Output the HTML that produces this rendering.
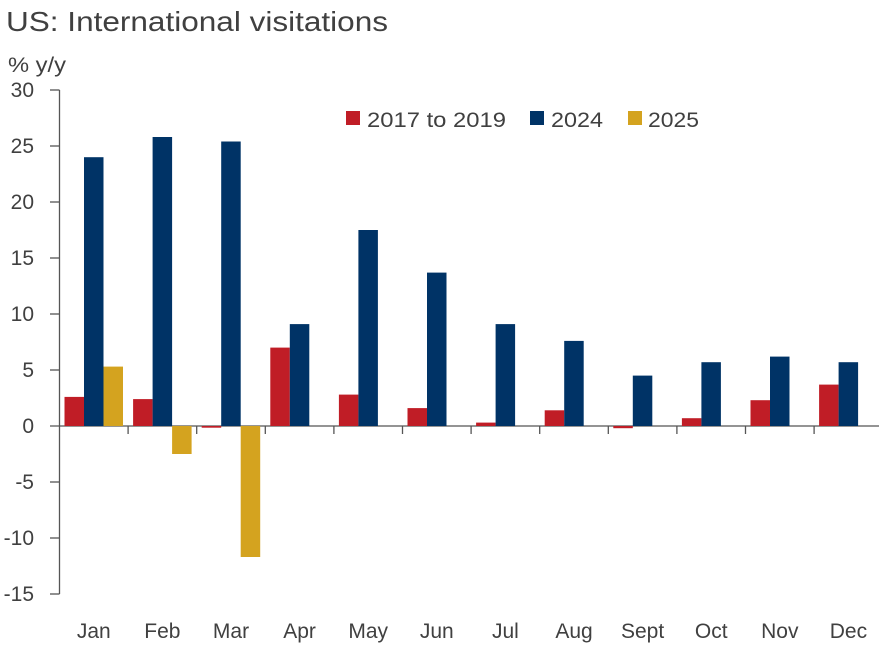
<!DOCTYPE html><html><head><style>body{margin:0;background:#fff}svg text{font-family:"Liberation Sans",sans-serif;fill:#404040}</style></head><body>
<svg width="879" height="654" xmlns="http://www.w3.org/2000/svg">
<text x="6" y="31" font-size="28" textLength="382" lengthAdjust="spacingAndGlyphs">US: International visitations</text>
<text x="8" y="72" font-size="21" textLength="58" lengthAdjust="spacingAndGlyphs">% y/y</text>
<g font-size="21" text-anchor="end">
<text x="34" y="97">30</text><text x="34" y="153">25</text><text x="34" y="209">20</text><text x="34" y="265">15</text><text x="34" y="321">10</text><text x="34" y="377">5</text><text x="34" y="433">0</text><text x="34" y="489">-5</text><text x="34" y="545">-10</text><text x="34" y="601">-15</text>
</g>
<g stroke="#555" stroke-width="1.3">
<line x1="59.5" y1="90" x2="59.5" y2="594"/>
<line x1="50" y1="90" x2="59.5" y2="90"/><line x1="50" y1="146" x2="59.5" y2="146"/><line x1="50" y1="202" x2="59.5" y2="202"/><line x1="50" y1="258" x2="59.5" y2="258"/><line x1="50" y1="314" x2="59.5" y2="314"/><line x1="50" y1="370" x2="59.5" y2="370"/><line x1="50" y1="426" x2="879" y2="426"/><line x1="50" y1="482" x2="59.5" y2="482"/><line x1="50" y1="538" x2="59.5" y2="538"/><line x1="50" y1="594" x2="59.5" y2="594"/>
<line x1="128.1" y1="426" x2="128.1" y2="434"/><line x1="196.7" y1="426" x2="196.7" y2="434"/><line x1="265.3" y1="426" x2="265.3" y2="434"/><line x1="333.9" y1="426" x2="333.9" y2="434"/><line x1="402.5" y1="426" x2="402.5" y2="434"/><line x1="471.1" y1="426" x2="471.1" y2="434"/><line x1="539.7" y1="426" x2="539.7" y2="434"/><line x1="608.3" y1="426" x2="608.3" y2="434"/><line x1="676.9" y1="426" x2="676.9" y2="434"/><line x1="745.5" y1="426" x2="745.5" y2="434"/><line x1="814.1" y1="426" x2="814.1" y2="434"/>
</g>
<g fill="#C01D26">
<rect x="64.5" y="396.9" width="19.5" height="29.1"/><rect x="133.1" y="399.1" width="19.5" height="26.9"/><rect x="201.7" y="426" width="19.5" height="1.7"/><rect x="270.3" y="347.6" width="19.5" height="78.4"/><rect x="338.9" y="394.6" width="19.5" height="31.4"/><rect x="407.5" y="408.1" width="19.5" height="17.9"/><rect x="476.1" y="422.6" width="19.5" height="3.4"/><rect x="544.7" y="410.3" width="19.5" height="15.7"/><rect x="613.3" y="426" width="19.5" height="2.2"/><rect x="681.9" y="418.2" width="19.5" height="7.8"/><rect x="750.5" y="400.2" width="19.5" height="25.8"/><rect x="819.1" y="384.6" width="19.5" height="41.4"/>
</g>
<g fill="#003366">
<rect x="84" y="157.2" width="19.5" height="268.8"/><rect x="152.6" y="137" width="19.5" height="289"/><rect x="221.2" y="141.5" width="19.5" height="284.5"/><rect x="289.8" y="324.1" width="19.5" height="101.9"/><rect x="358.4" y="230" width="19.5" height="196"/><rect x="427" y="272.6" width="19.5" height="153.4"/><rect x="495.6" y="324.1" width="19.5" height="101.9"/><rect x="564.2" y="340.9" width="19.5" height="85.1"/><rect x="632.8" y="375.6" width="19.5" height="50.4"/><rect x="701.4" y="362.2" width="19.5" height="63.8"/><rect x="770" y="356.6" width="19.5" height="69.4"/><rect x="838.6" y="362.2" width="19.5" height="63.8"/>
</g>
<g fill="#D4A31F">
<rect x="103.5" y="366.6" width="19.5" height="59.4"/><rect x="172.1" y="426" width="19.5" height="28"/><rect x="240.7" y="426" width="19.5" height="131"/>
</g>
<g font-size="21" text-anchor="middle">
<text x="93.8" y="638">Jan</text><text x="162.4" y="638">Feb</text><text x="231" y="638">Mar</text><text x="299.6" y="638">Apr</text><text x="368.2" y="638">May</text><text x="436.8" y="638">Jun</text><text x="505.4" y="638">Jul</text><text x="574" y="638">Aug</text><text x="642.6" y="638">Sept</text><text x="711.2" y="638">Oct</text><text x="779.8" y="638">Nov</text><text x="848.4" y="638">Dec</text>
</g>
<g font-size="21"><rect x="346" y="111" width="14" height="14" fill="#C01D26"/><text x="367" y="127" textLength="139" lengthAdjust="spacingAndGlyphs">2017 to 2019</text>
<rect x="530" y="111" width="14" height="14" fill="#003366"/><text x="551" y="127" textLength="52" lengthAdjust="spacingAndGlyphs">2024</text>
<rect x="628" y="111" width="14" height="14" fill="#D4A31F"/><text x="648" y="127" textLength="51" lengthAdjust="spacingAndGlyphs">2025</text></g>
</svg></body></html>
